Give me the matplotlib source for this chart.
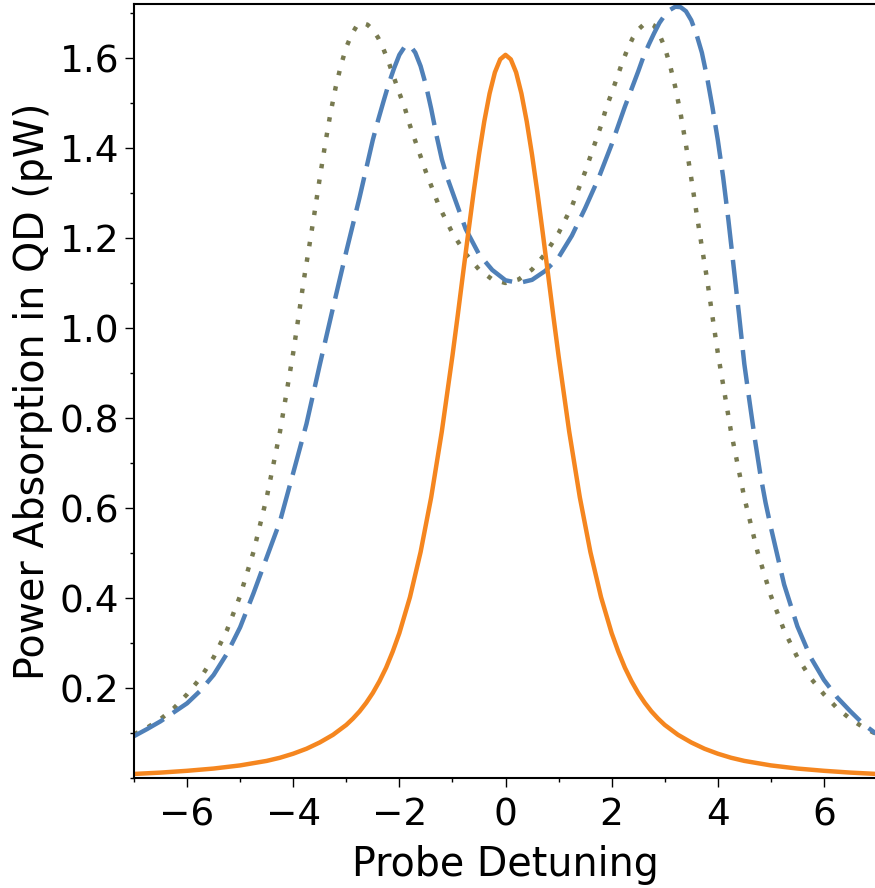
import numpy as np
import matplotlib
matplotlib.use("Agg")
import matplotlib.pyplot as plt
from matplotlib.ticker import MultipleLocator

# orange solid, symmetric about 0 (read for x >= 0)
orange_x_half = [0, 0.1, 0.2, 0.3, 0.4, 0.5, 0.6, 0.7, 0.8, 0.9, 1.0,
                 1.2, 1.4, 1.6, 1.8, 2.0, 2.125, 2.25, 2.375, 2.5, 2.625,
                 2.75, 2.875, 3.0, 3.25, 3.5, 3.75, 4.0, 4.25, 4.5, 5.0,
                 5.5, 6.0, 6.5, 7.0]
orange_y_half = [1.607, 1.597, 1.568, 1.521, 1.459, 1.385, 1.302, 1.213,
                 1.121, 1.028, 0.938, 0.770, 0.624, 0.502, 0.402, 0.322,
                 0.281, 0.245, 0.215, 0.189, 0.167, 0.148, 0.132, 0.118,
                 0.096, 0.079, 0.065, 0.054, 0.045, 0.038, 0.028, 0.021,
                 0.016, 0.012, 0.009]

# olive dotted, symmetric about 0 (read for x >= 0)
olive_x_half = [0, 0.25, 0.5, 0.75, 1.0, 1.25, 1.5, 1.8, 1.9, 2.0, 2.1,
                2.2, 2.3, 2.4, 2.5, 2.6, 2.7, 2.8, 2.9, 3.0, 3.1, 3.2, 3.3,
                3.4, 3.5, 3.6, 3.7, 3.8, 3.9, 4.0, 4.25, 4.5, 4.75, 5.0,
                5.25, 5.5, 5.75, 6.0, 6.25, 6.5, 6.75, 7.0]
olive_y_half = [1.100, 1.108, 1.130, 1.165, 1.211, 1.270, 1.347, 1.450,
                1.490, 1.522, 1.556, 1.590, 1.620, 1.645, 1.663, 1.674,
                1.678, 1.672, 1.652, 1.624, 1.584, 1.535, 1.476, 1.407,
                1.333, 1.255, 1.180, 1.107, 1.025, 0.945, 0.769, 0.623,
                0.502, 0.405, 0.328, 0.268, 0.222, 0.186, 0.155, 0.131,
                0.112, 0.097]

# blue dashed
blue_x = [-7, -6.75, -6.5, -6.25, -6, -5.75, -5.5, -5.25, -5, -4.75, -4.5,
          -4.25, -4, -3.75, -3.5, -3.25, -3, -2.75, -2.5, -2.4, -2.3, -2.2,
          -2.1, -2.0, -1.9, -1.8, -1.7, -1.6, -1.5, -1.4, -1.3, -1.2, -1.1,
          -1.0, -0.75, -0.5, -0.25, 0, 0.25, 0.5, 0.75, 1.0, 1.25, 1.5,
          1.75, 2.0, 2.25, 2.5, 2.6, 2.7, 2.8, 2.9, 3.0, 3.1, 3.2, 3.3, 3.4,
          3.5, 3.6, 3.7, 3.8, 3.9, 4.0, 4.1, 4.2, 4.3, 4.4, 4.5, 4.6, 4.7,
          4.8, 4.9, 5.0, 5.25, 5.5, 5.75, 6.0, 6.25, 6.5, 6.75, 7.0]
blue_y = [0.093, 0.109, 0.126, 0.146, 0.166, 0.194, 0.229, 0.276, 0.335,
          0.410, 0.490, 0.570, 0.678, 0.787, 0.918, 1.045, 1.170, 1.290,
          1.418, 1.462, 1.503, 1.543, 1.577, 1.607, 1.625, 1.628, 1.612,
          1.582, 1.540, 1.487, 1.428, 1.375, 1.335, 1.302, 1.220, 1.164,
          1.129, 1.106, 1.100, 1.107, 1.127, 1.157, 1.205, 1.266, 1.332,
          1.408, 1.492, 1.570, 1.603, 1.630, 1.655, 1.678, 1.695, 1.707,
          1.714, 1.713, 1.704, 1.684, 1.652, 1.612, 1.556, 1.490, 1.418,
          1.336, 1.240, 1.135, 1.030, 0.920, 0.835, 0.752, 0.676, 0.612,
          0.557, 0.430, 0.337, 0.268, 0.218, 0.179, 0.148, 0.119, 0.097]

orange_x = [-v for v in orange_x_half[:0:-1]] + orange_x_half
orange_y = orange_y_half[:0:-1] + orange_y_half
olive_x = [-v for v in olive_x_half[:0:-1]] + olive_x_half
olive_y = olive_y_half[:0:-1] + olive_y_half

plt.rcParams['font.family'] = 'DejaVu Sans'

fig = plt.figure(figsize=(8.75, 8.88), dpi=100)
ax = fig.add_axes([134 / 875, 1 - 778 / 888, 743 / 875, 774 / 888])

ax.plot(olive_x, olive_y, color="#787a50", lw=3.2, linestyle=(0, (1, 2.55)))
ax.plot(blue_x, blue_y, color="#4f80b8", lw=3.2, linestyle=(0, (7.7, 2.5)))
ax.plot(orange_x, orange_y, color="#f5861f", lw=3.2)

ax.set_xlim(-7, 7)
ax.set_ylim(0, 1.72)
ax.xaxis.set_minor_locator(MultipleLocator(1))
ax.yaxis.set_minor_locator(MultipleLocator(0.1))
ax.set_yticks([0.2, 0.4, 0.6, 0.8, 1.0, 1.2, 1.4, 1.6])
ax.set_xticks([-6, -4, -2, 0, 2, 4, 6])

ax.tick_params(which="major", length=6.5, width=1, labelsize=27)
ax.tick_params(axis="y", which="major", pad=4)
ax.tick_params(axis="x", which="major", pad=7.5)
ax.tick_params(which="minor", length=3.2, width=1)
for s in ax.spines.values():
    s.set_linewidth(1.5)

ax.set_xlabel("Probe Detuning", fontsize=28.5, labelpad=8)
ax.set_ylabel("Power Absorption in QD (pW)", fontsize=28.5, labelpad=5)

fig.savefig("out.png", dpi=100)
